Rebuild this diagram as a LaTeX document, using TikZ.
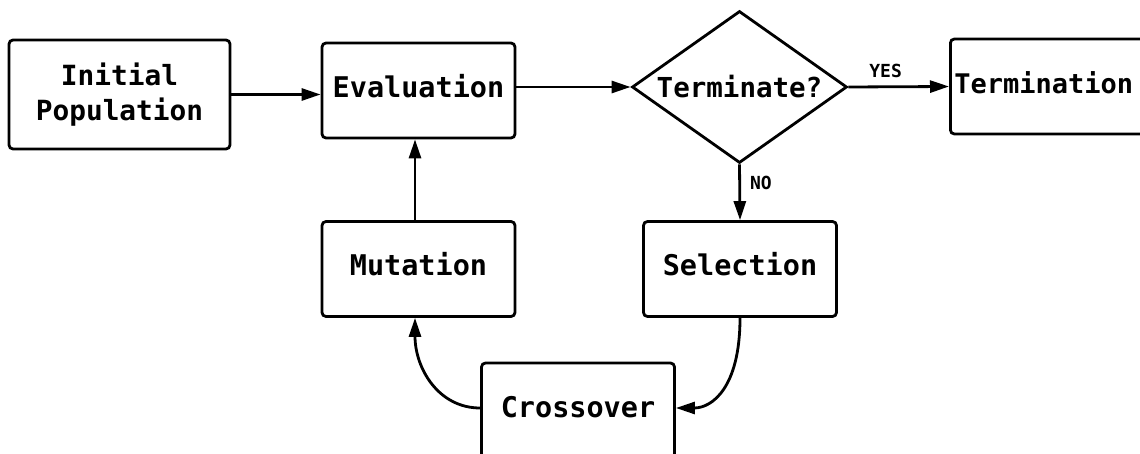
\documentclass[tikz,border=0pt]{standalone}
\usepackage{fontspec}
\usetikzlibrary{shapes.geometric,arrows.meta}
\newfontfamily\monob{DejaVu Sans Mono}

\newcommand\boxtext[1]{\monob\bfseries\fontsize{#1}{35}\selectfont}

\tikzset{
  frame/.style={draw, line width=2.8pt, rounded corners=4pt,
    minimum width=193pt, minimum height=95pt, font=\boxtext{28.5}},
  box/.style={frame, text height=20pt, text depth=6pt},
  decision/.style={diamond, draw, line width=2.8pt, inner sep=0pt,
    aspect=1.41, minimum width=215pt, minimum height=152pt,
    font=\boxtext{27.5}},
  arr/.style={line width=2.8pt, -{Triangle[length=19pt,width=12pt]}},
  lbl/.style={inner sep=0pt, font=\monob\bfseries\fontsize{18}{20}\selectfont}
}

\begin{document}
\begin{tikzpicture}[x=1pt, y=-1pt]
  % canvas
  \fill[white] (0,0) rectangle (1140,454);
  \useasboundingbox (0,0) rectangle (1140,454);

  % process steps
  \node[frame, minimum width=221pt, minimum height=109pt, align=center,
    font=\boxtext{27.8}] (init) at (119.5,94.5) {Initial\\Population};
  \node[box] (eval) at (418.5,90.5) {Evaluation};
  \node[decision] (term) at (739.5,87) {Terminate?};
  \node[box, anchor=west, inner xsep=4pt, text width=212pt, align=left,
    font=\boxtext{27}] (done) at (949,86.5) {Termination};
  \node[box] (mut) at (418.5,269) {Mutation};
  \node[box] (sel) at (740,269) {Selection};
  \node[box] (cross) at (578,410.5) {Crossover};

  % flow
  \draw[arr] (init.east) -- (init.east -| eval.west);
  \draw[arr] (eval.east |- term.west) -- (term.west);
  \draw[arr] (term.east) -- (done.west)
    node[lbl, pos=0.37, above=8pt] {YES};
  \draw[arr] (term.south) -- (sel.north)
    node[lbl, pos=0.34, right=9pt] {NO};
  \draw[arr] ([xshift=-3.5pt]mut.north) -- ([xshift=-3.5pt]eval.south);
  \draw[arr] (sel.south) .. controls +(0,70) and +(36,0) ..
    ([yshift=2.5pt]cross.east);
  \draw[arr] ([yshift=2.5pt]cross.west) .. controls +(-42,0) and +(0,50) ..
    ([xshift=-3.5pt]mut.south);
\end{tikzpicture}
\end{document}
